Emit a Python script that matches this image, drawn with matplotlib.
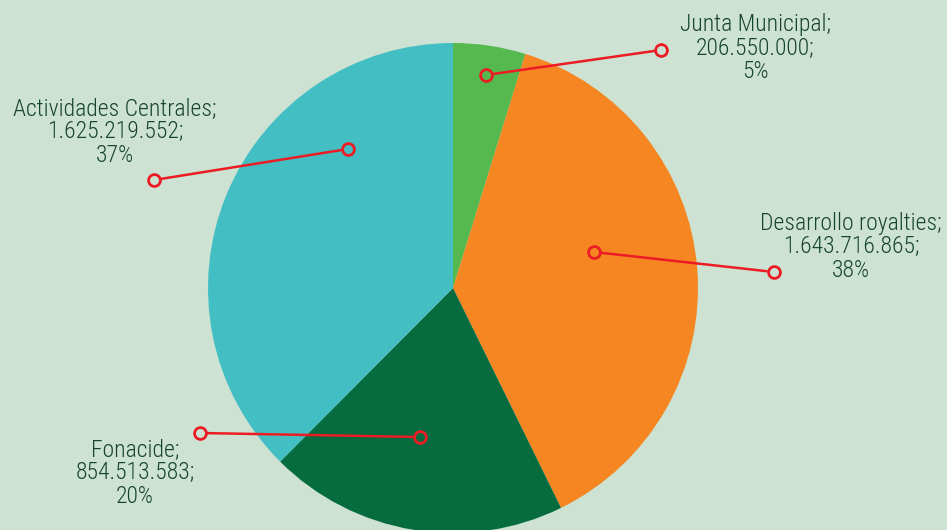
import matplotlib
matplotlib.use("Agg")
import matplotlib.pyplot as plt
import numpy as np
from matplotlib import font_manager

# datos del grafico
categorias = ["Junta Municipal", "Desarrollo royalties", "Fonacide", "Actividades Centrales"]
montos = [206550000, 1643716865, 854513583, 1625219552]
etiquetas_monto = ["206.550.000", "1.643.716.865", "854.513.583", "1.625.219.552"]
porcentajes = ["5%", "38%", "20%", "37%"]
colores = ["#55b94f", "#f58621", "#066c3f", "#43bfc4"]

W, H = 947, 530
fondo = "#cde2d3"
rojo = "#ec1c24"
texto = "#17452b"

# buscar una fuente condensada si existe
nombres = {f.name for f in font_manager.fontManager.ttflist}
fuente = "Roboto"
for cand in ["Roboto Condensed", "Liberation Sans Narrow", "DejaVu Sans Condensed"]:
    if cand in nombres:
        fuente = cand
        break
tam = 17 if fuente != "Roboto" else 14.5

fig = plt.figure(figsize=(W / 100, H / 100), dpi=100, facecolor=fondo)
ax = fig.add_axes([0, 0, 1, 1])
ax.set_facecolor(fondo)

def py(y):
    return H - y

ax.pie(montos, colors=colores, startangle=90, counterclock=False,
       center=(453, py(288)), radius=245, frame=True,
       wedgeprops=dict(linewidth=0))
ax.set_xlim(0, W)
ax.set_ylim(0, H)
ax.set_aspect("equal")
ax.axis("off")

# lineas guia: (punto interior, punto exterior, posicion texto)
guias = [
    ((486, 75), (661, 50), (755, 48)),
    ((594, 252), (774, 272), (851, 247)),
    ((420, 437), (200, 433), (135, 473)),
    ((348, 149), (154, 180), (115, 132)),
]
r_marca = 6.5  # radio del circulo hueco en px

for i, (a, b, t) in enumerate(guias):
    p0 = np.array([a[0], py(a[1])], dtype=float)
    p1 = np.array([b[0], py(b[1])], dtype=float)
    d = (p1 - p0) / np.hypot(*(p1 - p0))
    q0 = p0 + d * r_marca
    q1 = p1 - d * r_marca
    # la linea termina en el borde de los circulos
    ax.plot([q0[0], q1[0]], [q0[1], q1[1]], color=rojo, linewidth=1.8,
            solid_capstyle="butt", zorder=5)
    ax.plot([p0[0], p1[0]], [p0[1], p1[1]], linestyle="none",
            marker="o", markersize=8.5, markerfacecolor="none",
            markeredgecolor=rojo, markeredgewidth=2.0, zorder=5)
    s = categorias[i] + ";\n" + etiquetas_monto[i] + ";\n" + porcentajes[i]
    ax.text(t[0], py(t[1]), s, ha="center", va="center", color=texto,
            fontsize=tam, family=fuente, fontweight="light",
            linespacing=1.05, zorder=6)

fig.savefig("out.png", dpi=100, facecolor=fondo)
